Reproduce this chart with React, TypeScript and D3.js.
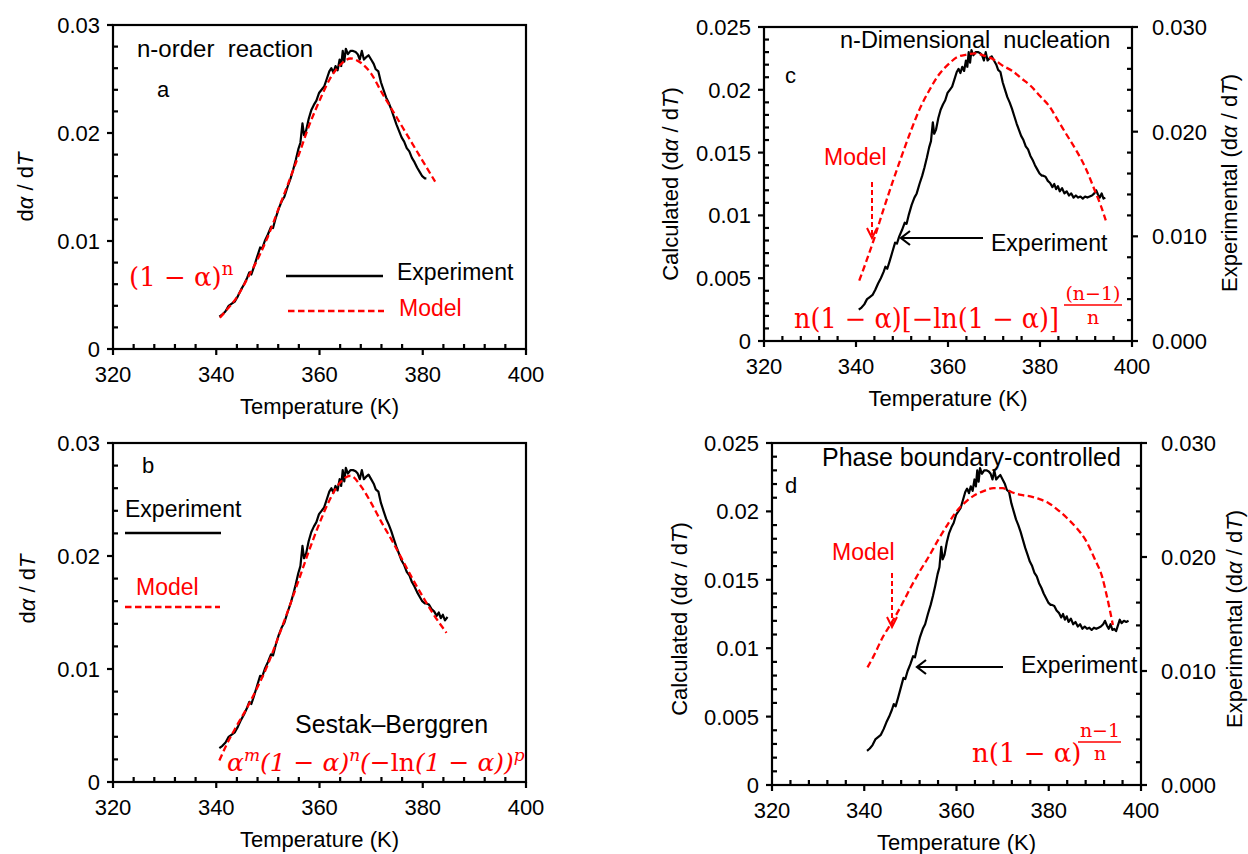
import React from "react";
import * as d3 from "d3";

// ---------- data ----------
const expT = [
  340.6, 341.2, 341.8, 342.4, 343.0, 343.6, 344.2, 344.8, 345.4, 346.0, 346.4, 346.8, 347.3, 347.9, 348.5, 348.9,
  349.4, 350.0, 350.6, 351.0, 351.5, 352.1, 352.7, 353.2, 353.8, 354.4, 354.9, 355.4, 355.9, 356.3, 356.7, 357.0,
  357.4, 357.9, 358.4, 358.9, 359.4, 359.9, 360.4, 360.9, 361.4, 361.9, 362.3, 362.7, 363.1, 363.5, 363.9, 364.2,
  364.5, 364.8, 365.1, 365.5, 366.0, 366.5, 367.0, 367.4, 367.8, 368.2, 368.6, 369.0, 369.5, 370.0, 370.5, 370.9,
  371.4, 371.9, 372.4, 372.9, 373.4, 373.9, 374.4, 374.9, 375.4, 375.9, 376.4, 376.9, 377.4, 377.9, 378.4, 378.9,
  379.4, 379.9, 380.4, 380.7, 381.2, 381.7, 382.2, 382.7, 383.1, 383.5, 383.9, 384.3, 384.8, 385.3, 385.8, 386.3,
  386.8, 387.3, 387.8, 388.3, 388.8, 389.3, 389.8, 390.3, 390.8, 391.3, 391.8, 392.2, 392.6, 393.0, 393.4, 393.8,
  394.2, 394.6, 395.0, 395.4, 395.8, 396.3, 396.8, 397.3,
];
const expV = [
  0.0030, 0.0032, 0.0035, 0.0040, 0.0042, 0.0044, 0.0049, 0.0055, 0.0060, 0.0066, 0.0071, 0.0069, 0.0076, 0.0085, 0.0094, 0.0093,
  0.0100, 0.0106, 0.0113, 0.0112, 0.0121, 0.0130, 0.0137, 0.0141, 0.0150, 0.0158, 0.0166, 0.0175, 0.0185, 0.0191, 0.0209, 0.0198,
  0.0202, 0.0213, 0.0221, 0.0226, 0.0230, 0.0237, 0.0240, 0.0243, 0.0250, 0.0257, 0.0260, 0.0256, 0.0262, 0.0258, 0.0268, 0.0262,
  0.0276, 0.0266, 0.0278, 0.0273, 0.0276, 0.0276, 0.0275, 0.0273, 0.0268, 0.0276, 0.0268, 0.0270, 0.0272, 0.0268, 0.0264, 0.0259,
  0.0257, 0.0247, 0.0240, 0.0233, 0.0228, 0.0222, 0.0215, 0.0208, 0.0202, 0.0196, 0.0192, 0.0186, 0.0183, 0.0177, 0.0173, 0.0168,
  0.0164, 0.0160, 0.0158, 0.0158, 0.0157, 0.0153, 0.0151, 0.0147, 0.0150, 0.0145, 0.0148, 0.0143, 0.0146, 0.0141, 0.0143, 0.0139,
  0.0141, 0.0137, 0.0139, 0.0137, 0.0138, 0.0136, 0.0138, 0.0137, 0.0138, 0.0139, 0.0141, 0.0144, 0.0140, 0.0137, 0.0141, 0.0136,
  0.0137, 0.0135, 0.0140, 0.0145, 0.0142, 0.0144, 0.0143, 0.0144,
];

const modelAT = [340.7, 342, 344, 346, 348, 350, 352, 354, 356, 358, 360, 362, 364, 366, 368, 370, 372, 374, 376, 378, 380, 382.4];
const modelAV = [0.0029, 0.0036, 0.0048, 0.0065, 0.0083, 0.0104, 0.0129, 0.0154, 0.018, 0.0207, 0.023, 0.025, 0.0263, 0.0269, 0.0265, 0.0255, 0.0238, 0.0222, 0.0206, 0.019, 0.0174, 0.0155];

const modelBT = [340.6, 342, 344, 346, 348, 350, 352, 354, 356, 358, 360, 362, 364, 366, 368, 370, 372, 374, 376, 378, 380, 382, 384.6];
const modelBV = [0.0019, 0.0033, 0.005, 0.0066, 0.0084, 0.0104, 0.0128, 0.0153, 0.0179, 0.0205, 0.0229, 0.025, 0.0265, 0.0271, 0.0262, 0.0247, 0.023, 0.0214, 0.0197, 0.018, 0.0164, 0.0149, 0.0132];

const modelCT = [340.7, 342, 344, 346, 348, 350, 352, 354, 356, 358, 360, 362, 364, 366, 368, 370, 372, 374, 376, 378, 380, 382, 384, 386, 388, 390, 392, 393.2, 394.3];
const modelCV = [0.0048, 0.0061, 0.0082, 0.0105, 0.0127, 0.0148, 0.0168, 0.0186, 0.02, 0.0212, 0.022, 0.0226, 0.0228, 0.0229, 0.0227, 0.0224, 0.0219, 0.0215, 0.0209, 0.0203, 0.0195, 0.0187, 0.0175, 0.0163, 0.0151, 0.0137, 0.0119, 0.0108, 0.0096];

const modelDT = [340.7, 342, 344, 346, 348, 350, 352, 354, 356, 358, 360, 362, 364, 366, 368, 370, 372, 374, 376, 378, 380, 382, 384, 386, 388, 390, 391.5, 392.6, 393.3, 393.9];
const modelDV = [0.0086, 0.0094, 0.0108, 0.0119, 0.0131, 0.0144, 0.0156, 0.0167, 0.0179, 0.019, 0.02, 0.0207, 0.0212, 0.0215, 0.0217, 0.0217, 0.0214, 0.0212, 0.0211, 0.0209, 0.0206, 0.0201, 0.0195, 0.0188, 0.0179, 0.0165, 0.0153, 0.0138, 0.0127, 0.0117];

const xTicks = [320, 340, 360, 380, 400];
const xTickLabels = ["320", "340", "360", "380", "400"];
const yTicksAB = [0, 0.01, 0.02, 0.03];
const yTickLabelsAB = ["0", "0.01", "0.02", "0.03"];
const yTicksCD = [0, 0.005, 0.01, 0.015, 0.02, 0.025];
const yTickLabelsCD = ["0", "0.005", "0.01", "0.015", "0.02", "0.025"];
const yTicksRight = [0, 0.01, 0.02, 0.03];
const yTickLabelsRight = ["0.000", "0.010", "0.020", "0.030"];

// ---------- styling ----------
const FONT = "'Liberation Sans', Arial, Helvetica, sans-serif";
const SERIF = "'DejaVu Serif', 'Liberation Serif', serif";
const RED = "#ff0000";
const AX = 2.2;

type Box = { l: number; r: number; t: number; b: number };

function range(a: number, b: number, s: number) {
  const out: number[] = [];
  for (let i = 0; a + i * s <= b + s * 1e-6; i++) out.push(a + i * s);
  return out;
}

function DYLabel({ prefix, suffix }: { prefix?: string; suffix?: string }) {
  return (
    <>
      {prefix ?? ""}d<tspan fontStyle="italic">α</tspan> / d<tspan fontStyle="italic">T</tspan>
      {suffix ?? ""}
    </>
  );
}

type PanelProps = {
  box: Box;
  yMax: number;
  yTicks: number[];
  yTickLabels: string[];
  yMinorStep: number;
  yMajorStep: number;
  right?: boolean;
  expEnd: number;
  modelT: number[];
  modelV: number[];
};

function Panel({ box, yMax, yTicks, yTickLabels, yMinorStep, yMajorStep, right, expEnd, modelT, modelV }: PanelProps) {
  const x = d3.scaleLinear().domain([320, 400]).range([box.l, box.r]);
  const y = d3.scaleLinear().domain([0, yMax]).range([box.b, box.t]);
  const yR = d3.scaleLinear().domain([0, 0.03]).range([box.b, box.t]);
  const ye = right ? yR : y;

  const exp: [number, number][] = expT.map((t, i) => [t, expV[i]] as [number, number]).filter((d) => d[0] <= expEnd);
  const expLine = d3
    .line<[number, number]>()
    .x((d) => x(d[0]))
    .y((d) => ye(d[1]));
  const model: [number, number][] = modelT.map((t, i) => [t, modelV[i]] as [number, number]);
  const modelLine = d3
    .line<[number, number]>()
    .x((d) => x(d[0]))
    .y((d) => y(d[1]))
    .curve(d3.curveMonotoneX);

  const xMinor = range(320, 400, 4).filter((v) => Math.abs(v % 20) > 1e-6);
  const yMinor = range(0, yMax, yMinorStep).filter((v) => {
    const r = v / yMajorStep;
    return Math.abs(r - Math.round(r)) > 1e-6;
  });
  const rMinor = range(0, 0.03, 0.002).filter((v) => {
    const r = v / 0.01;
    return Math.abs(r - Math.round(r)) > 1e-6;
  });

  return (
    <g>
      <rect x={box.l} y={box.t} width={box.r - box.l} height={box.b - box.t} fill="none" stroke="#000" strokeWidth={AX} />
      {xTicks.map((v, i) => (
        <g key={"xt" + v}>
          <line x1={x(v)} x2={x(v)} y1={box.b} y2={box.b + 6} stroke="#000" strokeWidth={AX} />
          <text x={x(v)} y={box.b + 33} textAnchor="middle" fontSize={22}>
            {xTickLabels[i]}
          </text>
        </g>
      ))}
      {xMinor.map((v) => (
        <line key={"xm" + v} x1={x(v)} x2={x(v)} y1={box.b} y2={box.b - 5} stroke="#000" strokeWidth={AX} />
      ))}
      <text x={(box.l + box.r) / 2} y={box.b + 65} textAnchor="middle" fontSize={22}>
        Temperature (K)
      </text>
      {yTicks.map((v, i) => (
        <g key={"yt" + v}>
          <line x1={box.l - 6} x2={box.l} y1={y(v)} y2={y(v)} stroke="#000" strokeWidth={AX} />
          <text x={box.l - 13} y={y(v) + 8} textAnchor="end" fontSize={22}>
            {yTickLabels[i]}
          </text>
        </g>
      ))}
      {yMinor.map((v) => (
        <line key={"ym" + v} x1={box.l} x2={box.l + 5} y1={y(v)} y2={y(v)} stroke="#000" strokeWidth={AX} />
      ))}
      {right && (
        <g>
          {yTicksRight.map((v, i) => (
            <g key={"rt" + v}>
              <line x1={box.r} x2={box.r + 6} y1={yR(v)} y2={yR(v)} stroke="#000" strokeWidth={AX} />
              <text x={box.r + 20} y={yR(v) + 8} textAnchor="start" fontSize={22}>
                {yTickLabelsRight[i]}
              </text>
            </g>
          ))}
          {rMinor.map((v) => (
            <line key={"rm" + v} x1={box.r - 5} x2={box.r} y1={yR(v)} y2={yR(v)} stroke="#000" strokeWidth={AX} />
          ))}
        </g>
      )}
      <path d={expLine(exp) ?? ""} fill="none" stroke="#000" strokeWidth={2.2} strokeLinejoin="round" />
      <path d={modelLine(model) ?? ""} fill="none" stroke={RED} strokeWidth={2.3} strokeDasharray="6.5,3.5" />
    </g>
  );
}

function ArrowLeft({ x1, x2, yy }: { x1: number; x2: number; yy: number }) {
  return (
    <g stroke="#000" strokeWidth={2.2} fill="none">
      <line x1={x1} x2={x2} y1={yy} y2={yy} />
      <path d={`M${x2 + 9},${yy - 7} L${x2},${yy} L${x2 + 9},${yy + 7}`} />
    </g>
  );
}

function ArrowDownDashed({ xx, y1, y2 }: { xx: number; y1: number; y2: number }) {
  return (
    <g stroke={RED} strokeWidth={2} fill="none">
      <line x1={xx} x2={xx} y1={y1} y2={y2} strokeDasharray="5,3" />
      <path d={`M${xx - 5},${y2 - 10} L${xx},${y2} L${xx + 5},${y2 - 10}`} />
    </g>
  );
}

export default function App() {
  const boxA: Box = { l: 113, r: 526, t: 25, b: 349 };
  const boxB: Box = { l: 113, r: 526, t: 443, b: 782 };
  const boxC: Box = { l: 764, r: 1132, t: 27, b: 341 };
  const boxD: Box = { l: 772, r: 1141, t: 443, b: 785 };

  return (
    <svg
      width={1248}
      height={854}
      viewBox="0 0 1248 854"
      style={{ position: "absolute", left: 0, top: 0, background: "#fff" }}
      fontFamily={FONT}
    >
      <rect x={0} y={0} width={1248} height={854} fill="#fff" />

      {/* ---------- panel a ---------- */}
      <Panel box={boxA} yMax={0.03} yTicks={yTicksAB} yTickLabels={yTickLabelsAB} yMinorStep={0.002} yMajorStep={0.01} expEnd={380.8} modelT={modelAT} modelV={modelAV} />
      <text transform="translate(33,187) rotate(-90)" textAnchor="middle" fontSize={22}>
        <DYLabel />
      </text>
      <text x={137} y={57} fontSize={24} style={{ whiteSpace: "pre" }}>
        {"n-order  reaction"}
      </text>
      <text x={157} y={97} fontSize={22}>a</text>
      <text x={129} y={286} fontSize={26} fontFamily={SERIF} fill={RED}>
        (1 − α)<tspan dy={-11} fontSize={18}>n</tspan>
      </text>
      <line x1={286} x2={383} y1={276} y2={276} stroke="#000" strokeWidth={2.3} />
      <text x={397} y={280} fontSize={23}>Experiment</text>
      <line x1={288} x2={384} y1={311} y2={311} stroke={RED} strokeWidth={2.3} strokeDasharray="6.5,3.5" />
      <text x={399} y={316} fontSize={23} fill={RED}>Model</text>

      {/* ---------- panel b ---------- */}
      <Panel box={boxB} yMax={0.03} yTicks={yTicksAB} yTickLabels={yTickLabelsAB} yMinorStep={0.002} yMajorStep={0.01} expEnd={384.9} modelT={modelBT} modelV={modelBV} />
      <text transform="translate(35,589) rotate(-90)" textAnchor="middle" fontSize={22}>
        <DYLabel />
      </text>
      <text x={142} y={473} fontSize={22}>b</text>
      <text x={125} y={517} fontSize={23}>Experiment</text>
      <line x1={125} x2={221} y1={533} y2={533} stroke="#000" strokeWidth={2.3} />
      <text x={136} y={595} fontSize={23} fill={RED}>Model</text>
      <line x1={125} x2={220} y1={607} y2={607} stroke={RED} strokeWidth={2.3} strokeDasharray="6.5,3.5" />
      <text x={295} y={733} fontSize={25}>Sestak–Berggren</text>
      <text x={227} y={771} fontSize={25} fontFamily={SERIF} fill={RED} fontStyle="italic">
        α<tspan dy={-10} fontSize={17}>m</tspan>
        <tspan dy={10}>(1 − α)</tspan>
        <tspan dy={-10} fontSize={17}>n</tspan>
        <tspan dy={10}>(−</tspan>
        <tspan fontStyle="normal">ln</tspan>
        <tspan>(1 − α))</tspan>
        <tspan dy={-10} fontSize={17}>p</tspan>
      </text>

      {/* ---------- panel c ---------- */}
      <Panel box={boxC} yMax={0.025} yTicks={yTicksCD} yTickLabels={yTickLabelsCD} yMinorStep={0.001} yMajorStep={0.005} right expEnd={394.3} modelT={modelCT} modelV={modelCV} />
      <text transform="translate(678,184) rotate(-90)" textAnchor="middle" fontSize={22}>
        <DYLabel prefix="Calculated (" suffix=")" />
      </text>
      <text transform="translate(1237,183) rotate(-90)" textAnchor="middle" fontSize={22}>
        <DYLabel prefix="Experimental (" suffix=")" />
      </text>
      <text x={840} y={48} fontSize={23.5} style={{ whiteSpace: "pre" }}>
        {"n-Dimensional  nucleation"}
      </text>
      <text x={785} y={83} fontSize={22}>c</text>
      <text x={824} y={165} fontSize={23} fill={RED}>Model</text>
      <ArrowDownDashed xx={872} y1={182} y2={238} />
      <text x={991} y={251} fontSize={23}>Experiment</text>
      <ArrowLeft x1={983} x2={901} yy={238} />
      <text x={794} y={328} fontSize={27} fontFamily={SERIF} fill={RED} textLength={265} lengthAdjust="spacingAndGlyphs">
        n(1 − α)[−ln(1 − α)]
      </text>
      <text x={1093} y={300} fontSize={19} fontFamily={SERIF} fill={RED} textAnchor="middle">(n−1)</text>
      <line x1={1064} x2={1122} y1={305} y2={305} stroke={RED} strokeWidth={1.3} />
      <text x={1093} y={324} fontSize={19} fontFamily={SERIF} fill={RED} textAnchor="middle">n</text>

      {/* ---------- panel d ---------- */}
      <Panel box={boxD} yMax={0.025} yTicks={yTicksCD} yTickLabels={yTickLabelsCD} yMinorStep={0.001} yMajorStep={0.005} right expEnd={397.4} modelT={modelDT} modelV={modelDV} />
      <text transform="translate(687,619) rotate(-90)" textAnchor="middle" fontSize={22}>
        <DYLabel prefix="Calculated (" suffix=")" />
      </text>
      <text transform="translate(1242,619) rotate(-90)" textAnchor="middle" fontSize={22}>
        <DYLabel prefix="Experimental (" suffix=")" />
      </text>
      <text x={822} y={466} fontSize={25}>Phase boundary-controlled</text>
      <text x={785} y={493} fontSize={22}>d</text>
      <text x={832} y={560} fontSize={23} fill={RED}>Model</text>
      <ArrowDownDashed xx={892} y1={573} y2={627} />
      <text x={1021} y={673} fontSize={23}>Experiment</text>
      <ArrowLeft x1={1003} x2={917} yy={667} />
      <text x={972} y={762} fontSize={26} fontFamily={SERIF} fill={RED}>
        n(1 − α)
      </text>
      <text x={1100} y={737} fontSize={19} fontFamily={SERIF} fill={RED} textAnchor="middle">n−1</text>
      <line x1={1078} x2={1121} y1={742} y2={742} stroke={RED} strokeWidth={1.3} />
      <text x={1100} y={760} fontSize={19} fontFamily={SERIF} fill={RED} textAnchor="middle">n</text>
    </svg>
  );
}
